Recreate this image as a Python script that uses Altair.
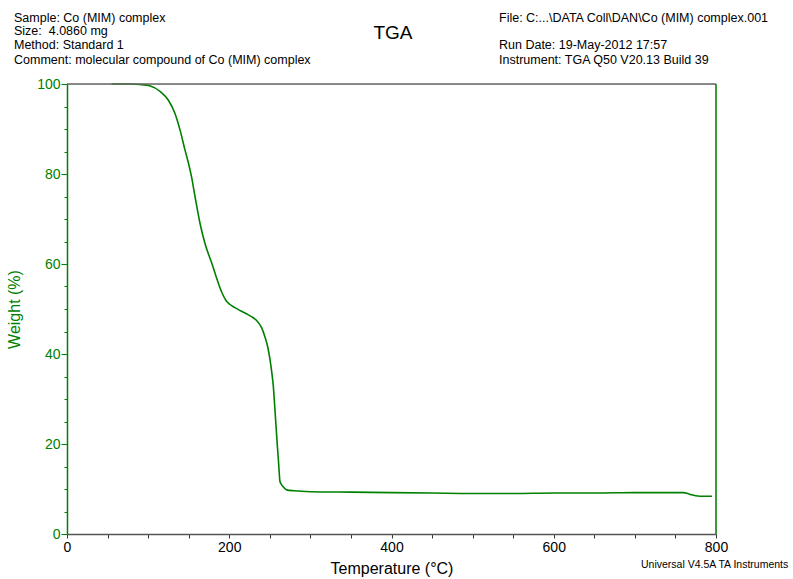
import altair as alt
import pandas as pd

temp_c = [55, 78, 90, 102, 115, 125, 133, 139.3, 145.5, 149.6, 153.7, 157.8, 164, 170, 178.4,
          186.6, 191, 196, 201, 207, 214, 223.5, 230, 234, 240, 244, 247.5, 250.3, 252.5, 254.4, 256,
          257.7, 259.2, 260.6, 262.6, 266, 270.8, 280, 300, 350, 400, 450, 500, 550, 600,
          650, 700, 740, 760, 765, 770, 775, 780, 795]
weight_pct = [100, 100, 99.9, 99.6, 98.3, 96.4, 93.5, 89.8, 85.3, 82.5, 79.2, 75.0, 69.0, 64.6, 60.2,
              55.7, 53.6, 51.9, 51.0, 50.3, 49.6, 48.7, 48.0, 47.4, 45.8, 43.8, 41.5, 38.7, 35.8, 32.7, 28.5,
              23.9, 19.8, 16.4, 11.6, 10.6, 9.8, 9.6, 9.4, 9.3, 9.2, 9.1, 9.0, 9.0, 9.1,
              9.1, 9.2, 9.2, 9.2, 9.0, 8.7, 8.5, 8.4, 8.4]

x_ticks = list(range(0, 801, 50))
y_ticks = list(range(0, 101, 5))

header_left = ["Sample: Co (MIM) complex", "Size:\u00a0 4.0860 mg", "Method: Standard 1",
               "Comment: molecular compound of Co (MIM) complex"]
header_left_y = [-66, -53, -39, -24]
header_right = ["File: C:...\\DATA Coll\\DAN\\Co (MIM) complex.001", "Run Date: 19-May-2012 17:57",
                "Instrument: TGA Q50 V20.13 Build 39"]
header_right_y = [-66, -39, -24]

W, H = 649, 450
FONT = "Liberation Sans"
GREEN = "#008000"

df = pd.DataFrame({"T": temp_c, "W": weight_pct})

xscale = alt.Scale(domain=[0, 800], nice=False, zero=False)
yscale = alt.Scale(domain=[0, 100], nice=False)

line = alt.Chart(df).mark_line(color=GREEN, strokeWidth=1.6, interpolate="monotone").encode(
    x=alt.X("T:Q", scale=xscale,
            axis=alt.Axis(values=x_ticks, title="Temperature (°C)", grid=False,
                          labelExpr="datum.value % 200 === 0 ? datum.label : ''",
                          labelFlush=False, labelOverlap=False,
                          tickSize=4, tickColor="#333333", domainColor="#555555", domainWidth=1.5,
                          labelColor="black", labelFontSize=14, labelFont=FONT, labelPadding=2,
                          titleFont=FONT, titleFontSize=16, titleFontWeight="normal",
                          titleColor="black", titlePadding=6)),
    y=alt.Y("W:Q", scale=yscale,
            axis=alt.Axis(values=y_ticks, title="Weight (%)", grid=False,
                          labelExpr="datum.value % 20 === 0 ? datum.label : ''",
                          labelFlush=False, labelOverlap=False,
                          tickSize={"condition": {"test": "datum.value % 20 === 0", "value": 6}, "value": 3},
                          tickColor=GREEN, domainColor=GREEN, domainWidth=1.5,
                          labelColor=GREEN, labelFontSize=14, labelFont=FONT, labelPadding=1,
                          titleFont=FONT, titleFontSize=16, titleFontWeight="normal",
                          titleColor=GREEN, titlePadding=14)),
)

top_rule = alt.Chart(pd.DataFrame({"a": [0]})).mark_rule(color="#666666", strokeWidth=1.5).encode(
    x=alt.value(0), x2=alt.value(W), y=alt.value(0))
right_rule = alt.Chart(pd.DataFrame({"a": [0]})).mark_rule(color=GREEN, strokeWidth=1.5).encode(
    x=alt.value(W), y=alt.value(0), y2=alt.value(H))

left_df = pd.DataFrame({"t": header_left, "y": header_left_y})
left_txt = alt.Chart(left_df).mark_text(align="left", baseline="middle", font=FONT, fontSize=12.5,
                                         color="black").encode(
    x=alt.value(-53), y=alt.Y("y:Q", scale=None), text="t:N")

right_df = pd.DataFrame({"t": header_right, "y": header_right_y})
right_txt = alt.Chart(right_df).mark_text(align="left", baseline="middle", font=FONT, fontSize=12.5,
                                           color="black").encode(
    x=alt.value(432), y=alt.Y("y:Q", scale=None), text="t:N")

title_txt = alt.Chart(pd.DataFrame({"t": ["TGA"]})).mark_text(
    align="center", baseline="middle", font=FONT, fontSize=19, color="black").encode(
    x=alt.value(326), y=alt.value(-51), text="t:N")

footer_txt = alt.Chart(pd.DataFrame({"t": ["Universal V4.5A TA Instruments"]})).mark_text(
    align="left", baseline="middle", font=FONT, fontSize=10.5, color="black").encode(
    x=alt.value(574), y=alt.value(481), text="t:N")

chart = alt.layer(line, top_rule, right_rule, left_txt, right_txt, title_txt, footer_txt).properties(
    width=W, height=H,
    autosize=alt.AutoSizeParams(type="none"),
    padding={"left": 67, "top": 84, "right": 77, "bottom": 45},
).configure_view(stroke=None).configure(background="white")

chart.save("out.html", embed_options={"renderer": "svg", "actions": False})
